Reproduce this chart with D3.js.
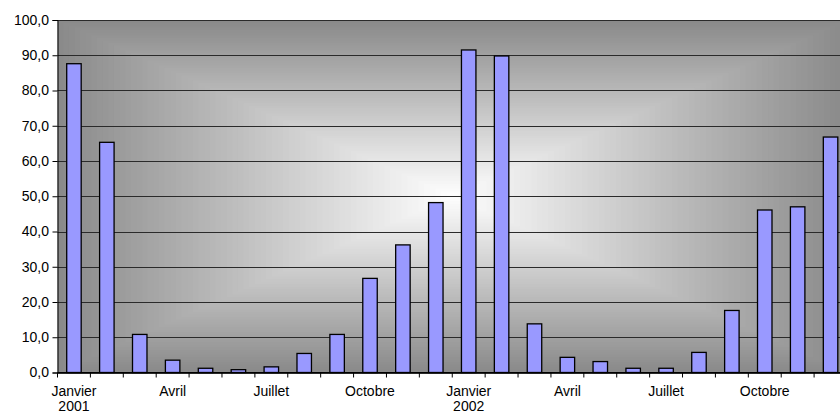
<!DOCTYPE html>
<html>
<head>
<meta charset="utf-8">
<script src="https://cdn.jsdelivr.net/npm/d3@7"></script>
<style>
  html, body { margin: 0; padding: 0; background: #fff; }
  svg { display: block; }
  text { font-family: "Liberation Sans", Arial, sans-serif; font-size: 14px; fill: #000; }
</style>
</head>
<body>
<svg id="chart" width="840" height="412"></svg>
<script>
// Monthly values, January 2001 to December 2002
const months = ["2001-01","2001-02","2001-03","2001-04","2001-05","2001-06",
                "2001-07","2001-08","2001-09","2001-10","2001-11","2001-12",
                "2002-01","2002-02","2002-03","2002-04","2002-05","2002-06",
                "2002-07","2002-08","2002-09","2002-10","2002-11","2002-12"];
const values = [87.6, 65.3, 10.8, 3.5, 1.2, 0.8, 1.6, 5.4, 10.8, 26.7, 36.2, 48.2,
                91.5, 89.8, 13.8, 4.3, 3.1, 1.2, 1.2, 5.7, 17.6, 46.1, 47.0, 66.8];
// Category labels (first line / second line); empty where no label is shown
const labelLine1 = ["Janvier","","","Avril","","","Juillet","","","Octobre","","",
                    "Janvier","","","Avril","","","Juillet","","","Octobre","",""];
const labelLine2 = ["2001","","","","","","","","","","","",
                    "2002","","","","","","","","","","",""];
const yTicks = [0, 10, 20, 30, 40, 50, 60, 70, 80, 90, 100];

(function draw() {
  const svg = d3.select("#chart");
  const plotL = 57.5, plotR = 847, plotT = 20, plotB = 372.5;

  const x = d3.scaleBand()
    .domain(d3.range(months.length))
    .range([plotL, plotR])
    .paddingInner(0.56)
    .paddingOuter(0.28);
  const y = d3.scaleLinear().domain([0, 100]).range([plotB, plotT]);

  // Plot background: rectangular gradient, light centre fading to grey edges
  const W = plotR - plotL, H = plotB - plotT;
  const cx = plotL + W / 2, cy = plotT + H / 2;
  const shade = d3.interpolateRgb("#ffffff", "#8a8a8a");
  const steps = 70;
  const bg = svg.append("g");
  for (let i = steps; i >= 1; i--) {
    const t = i / steps;
    bg.append("rect")
      .attr("x", cx - t * W / 2)
      .attr("y", cy - t * H / 2)
      .attr("width", t * W)
      .attr("height", t * H)
      .attr("fill", shade(t));
  }

  // Horizontal gridlines
  svg.append("g").selectAll("line")
    .data(yTicks)
    .join("line")
    .attr("x1", plotL).attr("x2", plotR)
    .attr("y1", d => Math.round(y(d)) + 0.5)
    .attr("y2", d => Math.round(y(d)) + 0.5)
    .attr("stroke", "#2a2a2a")
    .attr("stroke-width", 1.2);

  // Bars
  svg.append("g").selectAll("rect")
    .data(values)
    .join("rect")
    .attr("x", (d, i) => x(i))
    .attr("width", x.bandwidth())
    .attr("y", d => y(d))
    .attr("height", d => y(0) - y(d))
    .attr("fill", "#9999ff")
    .attr("stroke", "#000")
    .attr("stroke-width", 1.3);

  // Y axis
  const yAxis = d3.axisLeft(y)
    .tickValues(yTicks)
    .tickSize(5)
    .tickPadding(3.5)
    .tickFormat(d => d3.format(".1f")(d).replace(".", ","));
  const gy = svg.append("g")
    .attr("transform", `translate(${plotL},0)`)
    .call(yAxis);
  gy.select(".domain").attr("stroke", "#000");
  gy.selectAll(".tick line").attr("stroke", "#000");
  gy.selectAll(".tick text")
    .attr("font-size", 14)
    .attr("font-family", "Liberation Sans, Arial, sans-serif")
    .attr("fill", "#000");

  // X axis: ticks on category boundaries, labels centred in bands
  const step = x.step();
  const boundaries = d3.range(months.length + 1).map(i => plotL + i * step);
  const gx = svg.append("g");
  gx.append("line")
    .attr("x1", plotL).attr("x2", plotR)
    .attr("y1", plotB).attr("y2", plotB)
    .attr("stroke", "#000").attr("stroke-width", 1.2);
  gx.selectAll("line.tick")
    .data(boundaries)
    .join("line")
    .attr("class", "tick")
    .attr("x1", d => d).attr("x2", d => d)
    .attr("y1", plotB).attr("y2", plotB + 5)
    .attr("stroke", "#000");

  const labels = gx.selectAll("text")
    .data(d3.range(months.length).filter(i => labelLine1[i]))
    .join("text")
    .attr("x", i => x(i) + x.bandwidth() / 2)
    .attr("text-anchor", "middle");
  labels.append("tspan")
    .attr("x", i => x(i) + x.bandwidth() / 2)
    .attr("y", 395.5)
    .text(i => labelLine1[i]);
  labels.append("tspan")
    .attr("x", i => x(i) + x.bandwidth() / 2)
    .attr("y", 410.5)
    .text(i => labelLine2[i]);
})();
</script>
</body>
</html>
